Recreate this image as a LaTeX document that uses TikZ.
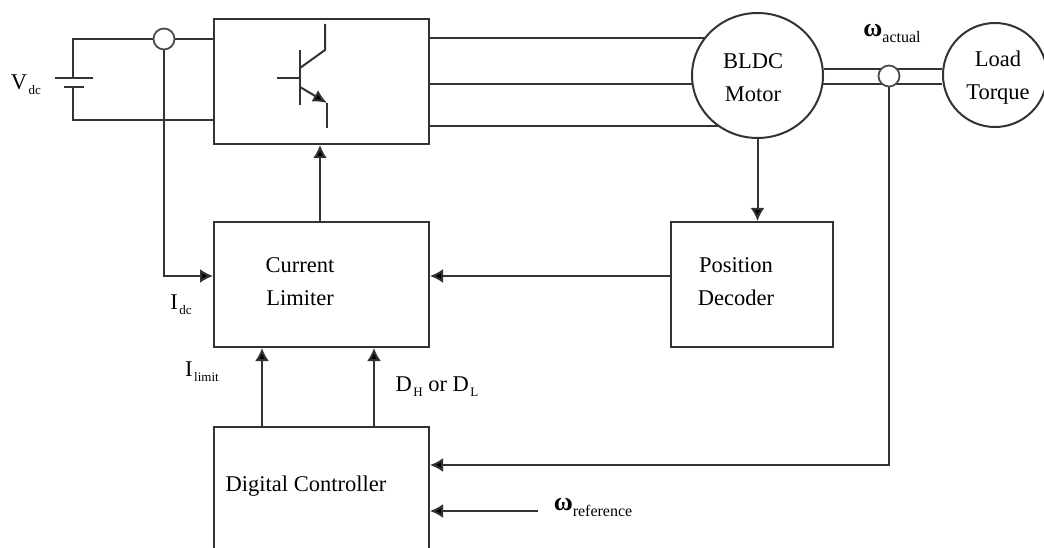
\documentclass[tikz,border=0pt]{standalone}
\usepackage{fontspec}
\setmainfont{Liberation Serif}
\usetikzlibrary{arrows.meta,shapes.geometric}
\tikzset{
  wire/.style={draw=black!80,line width=2pt},
  arrow/.style={wire,-{Latex[length=13pt,width=14pt,fill=black]}},
  block/.style={wire,rectangle,inner sep=0pt},
  sense/.style={draw=black!70,line width=1.8pt,circle,fill=white,inner sep=0pt,minimum size=21pt},
  txt/.style={font=\fontsize{22.5}{33}\selectfont,align=center,inner sep=0pt},
}
\newcommand{\sublab}[2]{#1\kern1.5pt\raisebox{-5pt}{\fontsize{13}{13}\selectfont #2}}
\newcommand{\speedlab}[1]{{\fontsize{26}{26}\selectfont\bfseries ω}\kern0pt\raisebox{-6pt}{\fontsize{16}{16}\selectfont #1}}
\begin{document}
\begin{tikzpicture}[x=1pt,y=-1pt]
\useasboundingbox (0,0) rectangle (1044,548);
% blocks
\node[block,minimum width=215pt,minimum height=125pt] (inverter) at (321.5,81.5) {};
\node[block,minimum width=215pt,minimum height=125pt] (limiter) at (321.5,284.5) {};
\node[block,minimum width=215pt,minimum height=130pt] (controller) at (321.5,492) {};
\node[block,minimum width=162pt,minimum height=125pt] (decoder) at (752,284.5) {};
\node[wire,ellipse,inner sep=0pt,minimum width=131pt,minimum height=125pt] (motor) at (757.5,75.5) {};
\node[wire,circle,inner sep=0pt,minimum size=104pt] (load) at (995,75) {};
% power wires
\foreach \a in {145.6,187.5,232.6}{\draw[wire](inverter.east |- motor.\a)--(motor.\a);}
\foreach \a in {6,-7}{\draw[wire](motor.\a)--(load.west |- motor.\a);}
\node[sense] (vsense) at (164,39) {};
\node[sense] (wsense) at (889,76) {};
\coordinate (plateup) at (73,78);
\coordinate (platedown) at (73,87);
\draw[wire](vsense.west)-|(plateup);
\draw[wire](vsense.east)--(inverter.west |- vsense);
\draw[wire](platedown)|-(inverter.west |- 0,120);
\draw[wire](55,78)--(93,78) (64,87)--(84,87);
% transistor
\draw[wire](277,78)--(300,78) (300,50)--(300,105);
\draw[wire](300,68)--(325,50)--(325,24);
\draw[wire](327,128)--(327,103);
\draw[wire,-{Latex[length=14pt,width=13pt,fill=black]}](300,87)--(327,103);
% signals
\draw[arrow](limiter.north -| 320,0)--(inverter.south -| 320,0);
\draw[arrow](vsense.south)|-(limiter.west |- 0,276);
\draw[arrow](decoder.west |- 0,276)--(limiter.east |- 0,276);
\draw[arrow](motor.south)--(decoder.north -| motor.south);
\foreach \x in {262,374}{\draw[arrow](controller.north -| \x,0)--(limiter.south -| \x,0);}
\draw[arrow](wsense.south)|-(controller.east |- 0,465);
\coordinate (wref) at (538,511);
\draw[arrow](wref)--(controller.east |- wref);
% labels
\node[txt] (vdc) at (26,85) {\sublab{V}{dc}};
\node[txt] (idc) at (181,305) {\sublab{I}{dc}};
\node[txt] (ilimit) at (202,372) {\sublab{I}{limit}};
\node[txt] (duty) at (437,387) {\sublab{D}{H} or \sublab{D}{L}};
\node[txt] (motortext) at (753,78) {BLDC\\Motor};
\node[txt] (loadtext) at (998,78) {Load\\Torque};
\node[txt] (limitertext) at (300,282) {Current\\Limiter};
\node[txt] (decodertext) at (736,282) {Position\\Decoder};
\node[txt] (controllertext) at (306,486) {Digital Controller};
\node[txt] (wactual) at (892,33) {\speedlab{actual}};
\node[txt] (wreference) at (593,507) {\speedlab{reference}};
\end{tikzpicture}
\end{document}
